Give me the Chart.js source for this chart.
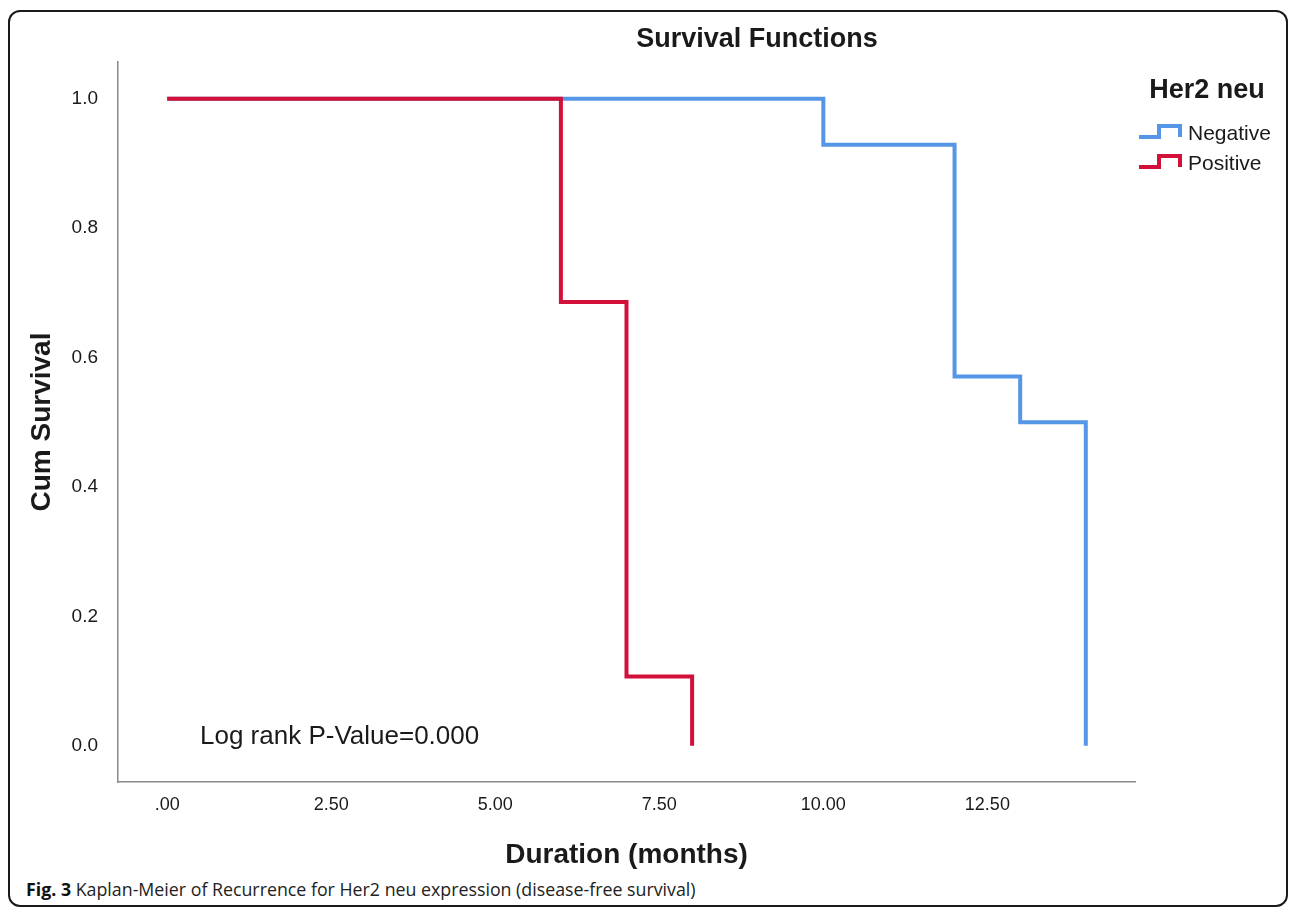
<!DOCTYPE html>
<html>
<head>
<meta charset="utf-8">
<script src="https://cdn.jsdelivr.net/npm/chart.js@4.4.1/dist/chart.umd.min.js"></script>
<style>
  html, body { margin:0; padding:0; background:#fff; width:1290px; height:908px; overflow:hidden; }
  #frame { position:absolute; left:8px; top:10px; width:1280px; height:897px; box-sizing:border-box;
           border:2px solid #1a1a1a; border-radius:12px; }
  #wrap { position:absolute; left:0; top:0; width:1290px; height:872px; }
  #caption { position:absolute; left:26px; top:877px; font-family:"Open Sans", sans-serif; font-size:17.8px;
             color:#222; white-space:nowrap; }
  #caption b { color:#111; }
</style>
</head>
<body>
<div id="frame"></div>
<div id="wrap"><canvas id="km" width="1290" height="872"></canvas></div>
<div id="caption"><b>Fig. 3</b> Kaplan-Meier of Recurrence for Her2 neu expression (disease-free survival)</div>
<script>
// ── Data ─────────────────────────────────────────────────────
const groups      = ['Negative', 'Positive'];
const negTimes    = [0, 10, 12, 13, 14];
const negSurv     = [1.0, 0.929, 0.571, 0.5, 0.0];
const posTimes    = [0, 6, 7, 8];
const posSurv     = [1.0, 0.686, 0.107, 0.0];
const xTicks      = [0, 2.5, 5, 7.5, 10, 12.5];
const xTickLabels = ['.00', '2.50', '5.00', '7.50', '10.00', '12.50'];
const yTicks      = [0, 0.2, 0.4, 0.6, 0.8, 1.0];
const yTickLabels = ['0.0', '0.2', '0.4', '0.6', '0.8', '1.0'];

const C = { neg:'#5596e6', pos:'#d2103a', axis:'#8a8a8a', text:'#1a1a1a' };
const FONT = '"Liberation Sans", Arial, sans-serif';

const pts = (t, s) => t.map((x, i) => ({ x, y: s[i] }));

// ── Texts + step legend ──────────────────────────────────────
const decor = {
  id: 'decor',
  afterDraw(chart) {
    const ctx = chart.ctx;
    ctx.save();
    ctx.fillStyle = C.text;
    ctx.textBaseline = 'middle';

    ctx.font = `bold 27px ${FONT}`;
    ctx.textAlign = 'center';
    ctx.fillText('Survival Functions', 757, 40);
    ctx.fillText('Her2 neu', 1207, 91);

    ctx.font = `21px ${FONT}`;
    ctx.textAlign = 'left';
    const rows = [134, 164];
    chart.data.datasets.forEach((ds, i) => {
      const y = rows[i];
      ctx.strokeStyle = ds.borderColor;
      ctx.lineWidth = 4;
      ctx.lineJoin = 'miter';
      ctx.beginPath();
      ctx.moveTo(1139, y + 3);
      ctx.lineTo(1159, y + 3);
      ctx.lineTo(1159, y - 8);
      ctx.lineTo(1180, y - 8);
      ctx.lineTo(1180, y + 3);
      ctx.stroke();
      ctx.fillText(ds.label, 1188, y);
    });

    ctx.font = `26px ${FONT}`;
    ctx.fillText('Log rank P-Value=0.000', 200, 737);
    ctx.restore();
  }
};

new Chart(document.getElementById('km'), {
  type: 'line',
  data: {
    datasets: [
      { label: groups[0], data: pts(negTimes, negSurv), borderColor: C.neg, order: 1 },
      { label: groups[1], data: pts(posTimes, posSurv), borderColor: C.pos, order: 0 },
    ]
  },
  options: {
    responsive: false,
    animation: false,
    parsing: false,
    layout: { padding: { top: 62, right: 155, left: 0, bottom: 0 } },
    elements: {
      line: { stepped: true, borderWidth: 4, fill: false, tension: 0, borderCapStyle: 'butt', borderJoinStyle: 'miter' },
      point: { radius: 0, hoverRadius: 0 }
    },
    plugins: { legend: { display: false }, tooltip: { enabled: false }, title: { display: false } },
    scales: {
      x: {
        type: 'linear', min: -0.75, max: 14.75,
        afterBuildTicks: s => { s.ticks = xTicks.map(v => ({ value: v })); },
        afterFit: s => { s.height = 90; },
        grid: { display: false, drawTicks: false },
        border: { display: true, color: C.axis, width: 1.5 },
        ticks: { autoSkip: false, maxRotation: 0, padding: 12, color: C.text, font: { family: FONT, size: 18 },
                 callback: v => xTickLabels[xTicks.indexOf(v)] },
        title: { display: true, text: 'Duration (months)', color: C.text, padding: { top: 0, bottom: 0 },
                 font: { family: FONT, size: 28, weight: 'bold' } }
      },
      y: {
        type: 'linear', min: -0.056, max: 1.057,
        afterBuildTicks: s => { s.ticks = yTicks.map(v => ({ value: v })); },
        afterFit: s => { s.width = 118; },
        grid: { display: false, drawTicks: false },
        border: { display: true, color: C.axis, width: 1.5 },
        ticks: { autoSkip: false, padding: 20, color: C.text, font: { family: FONT, size: 19 },
                 callback: v => yTickLabels[yTicks.indexOf(v)] },
        title: { display: true, text: 'Cum Survival', color: C.text, padding: { top: 25, bottom: 0 },
                 font: { family: FONT, size: 28, weight: 'bold' } }
      }
    }
  },
  plugins: [decor]
});
</script>
</body>
</html>
